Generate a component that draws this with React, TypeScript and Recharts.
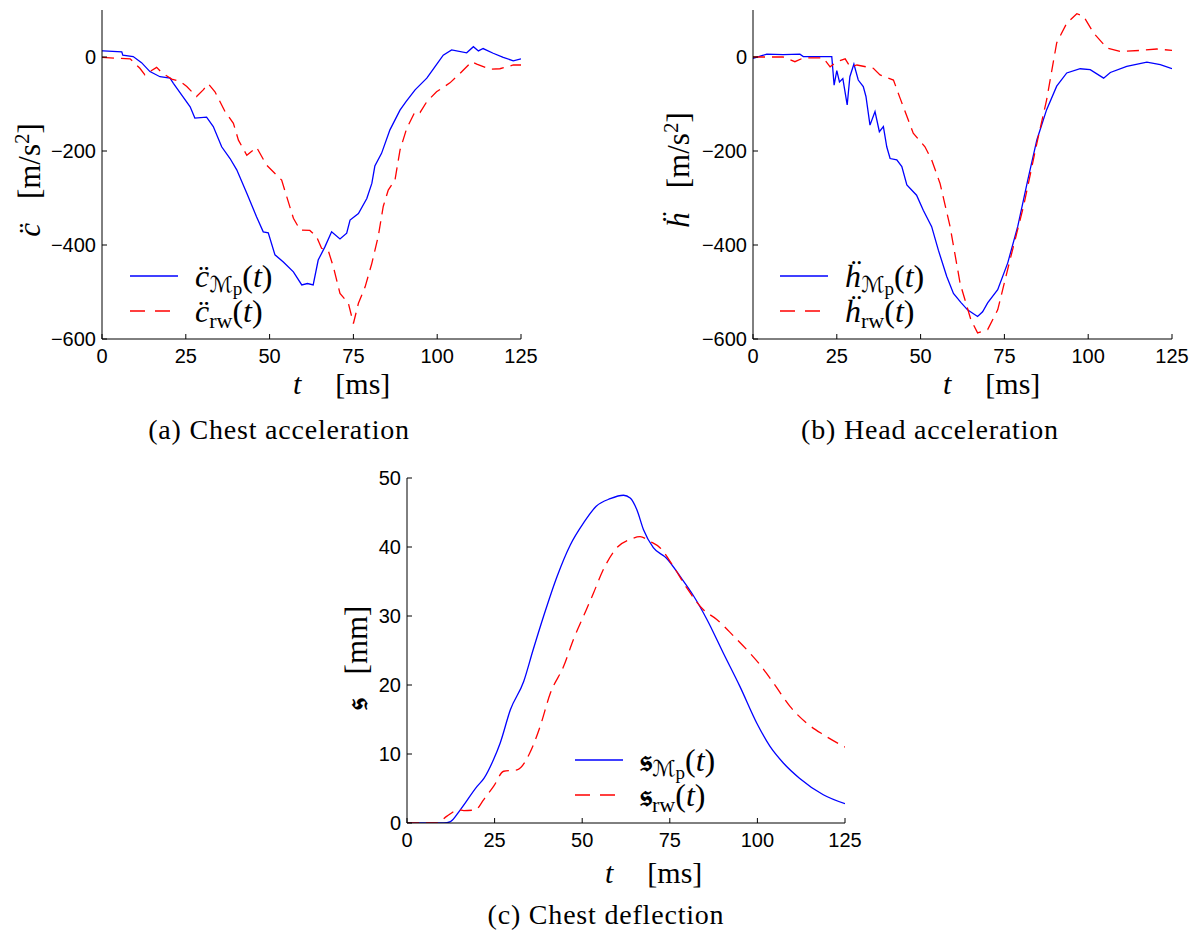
import React from "react";
import { LineChart, Line, XAxis, YAxis } from "recharts";

// (a) chest acceleration [m/s^2]
const chestMpT = [0, 0.4, 5.9, 6.2, 9.3, 11.8, 14.3, 17.3, 20.3, 21.3, 23.8, 26.3, 27.7, 31.2, 33.2, 35.7, 38.2, 40.2, 43.2, 46.1, 48.1, 49.6, 51.6, 54.1, 57.1, 59.6, 61.3, 63, 64.5, 66.5, 68.5, 71, 73, 74, 76.5, 79, 80.5, 81.4, 83.4, 85.9, 88.9, 90.7, 93.4, 96.9, 99.3, 101.8, 104.3, 108.8, 110.8, 112.3, 113.7, 116.7, 119.7, 122.7, 125];
const chestMpV = [13, 13, 11, 4, 1, -12, -31, -42, -45, -56, -81, -106, -130, -128, -148, -191, -216, -240, -290, -340, -372, -374, -421, -436, -457, -485, -482, -485, -432, -404, -372, -387, -375, -347, -333, -301, -269, -232, -205, -155, -113, -95, -70, -45, -21, 4, 15, 9, 22, 13, 18, 8, -1, -8, -4];
const chestRwT = [0, 8.4, 11.3, 12.8, 14.3, 16.3, 17.8, 20.8, 23.3, 25.3, 28.2, 30.2, 31.7, 33.7, 36.7, 39.2, 40.7, 43.2, 46.1, 49.1, 53.6, 55.1, 57.1, 59.1, 62, 64, 65.5, 67.5, 69, 71, 73.5, 75, 76.5, 78.5, 80.5, 82.4, 83.9, 85.4, 87.4, 88.9, 90.9, 93.4, 94.9, 96.9, 99.8, 103.8, 106.8, 110.3, 111.8, 115.7, 118.7, 122.7, 125];
const chestRwV = [-1, -4, -24, -38, -31, -22, -33, -47, -52, -63, -84, -70, -57, -74, -116, -141, -177, -209, -192, -230, -262, -297, -343, -368, -369, -382, -407, -412, -446, -503, -524, -567, -524, -489, -439, -382, -318, -283, -262, -198, -152, -116, -118, -95, -74, -55, -35, -10, -15, -26, -25, -17, -17];

// (b) head acceleration [m/s^2]
const headMpT = [0, 4.1, 9, 14, 15, 23.5, 24.2, 25, 25.8, 26.8, 28.1, 28.9, 30.1, 31.4, 32.9, 33.7, 34.9, 36.4, 37.7, 38.9, 39.9, 40.9, 42.9, 44.4, 45.9, 48.8, 50.8, 53.3, 55.3, 57.8, 59.8, 62, 64, 67, 68.5, 70, 73, 76, 79, 82, 84.7, 87.6, 90.6, 93.6, 97.6, 100.6, 104.6, 106.6, 111.5, 117.5, 121.5, 125];
const headMpV = [-3, 6, 5, 6, 1, 1, -60, -29, -53, -46, -102, -42, -15, -49, -63, -84, -145, -116, -159, -148, -191, -216, -219, -233, -272, -294, -326, -361, -411, -467, -503, -522, -538, -552, -542, -523, -495, -438, -360, -261, -176, -112, -62, -34, -25, -27, -45, -33, -20, -11, -16, -25];
const headRwT = [0, 9, 12.5, 15, 21, 23, 25, 27.5, 29, 31, 35.9, 37.9, 41.9, 43.9, 47.8, 51.3, 53.3, 55.8, 58.8, 61.8, 65, 67, 70, 73, 76.7, 80.7, 84.7, 87.6, 90.6, 93.6, 96.6, 98.6, 101.6, 105.6, 109.6, 115.5, 120.5, 125];
const headRwV = [0, 0, -10, -2, -2, -21, -10, -4, -21, -17, -24, -38, -49, -88, -162, -191, -219, -269, -361, -482, -559, -587, -580, -538, -431, -318, -183, -91, 30, 72, 92, 87, 51, 19, 12, 14, 17, 14];

// (c) chest deflection [mm]
const deflMpT = [0, 10.5, 12.4, 15.2, 20, 22, 24.7, 26.6, 29.5, 33.3, 36, 39, 42.8, 46.6, 50.4, 54, 58, 61.8, 63.7, 65.6, 67.5, 70.3, 74, 78, 81.8, 85.6, 90.3, 95, 99.8, 103.6, 107.4, 112, 118.8, 125];
const deflMpV = [0, 0, 0.2, 1.9, 5.3, 6.5, 9.2, 11.6, 16.4, 20.5, 25.1, 30, 35.7, 40.3, 43.5, 45.9, 47, 47.5, 47.1, 45.4, 42.5, 39.9, 38.4, 35.7, 32.9, 29.5, 24.6, 19.8, 14.5, 11.1, 8.7, 6.5, 4.1, 2.8];
const deflRwT = [0, 8.6, 11.4, 14.7, 16.2, 19.5, 21.9, 24.7, 27.6, 31.4, 35, 38, 40.9, 44.7, 47.5, 50.4, 53.2, 56, 59.9, 63.7, 66.5, 69.4, 72.2, 76, 79.8, 84.6, 88.4, 93.2, 97.9, 100.8, 104.6, 109.3, 114, 118.8, 125];
const deflRwV = [0, 0, 1, 1.9, 1.8, 1.9, 3.4, 5.3, 7.5, 7.7, 10.1, 14, 18.8, 22.7, 26.6, 30, 33.3, 36.7, 39.9, 41.1, 41.5, 40.8, 39.9, 37.2, 34.1, 30.9, 29.5, 27.1, 24.6, 22.9, 20.3, 16.9, 14.5, 12.8, 11];

const tTicks = [0, 25, 50, 75, 100, 125];
const accTicks = [-600, -400, -200, 0];
const deflTicks = [0, 10, 20, 30, 40, 50];

const zip = (t: number[], v: number[]) => t.map((x, i) => ({ t: x, v: v[i] }));

const SANS = "'Liberation Sans', Arial, sans-serif";
const SERIF = "'Liberation Serif', 'Times New Roman', serif";
const BLUE = "#0000ff";
const RED = "#ff0000";
const DASH = "12 7";
const Y_W = 60;
const X_H = 30;

const fmt = (v: number) => (v < 0 ? "\u2212" + Math.abs(v) : String(v));

// ticks point inward, like the matlab original
const XTick = (props: any) => {
  const { x, y, payload } = props;
  return (
    <g>
      <line x1={x} y1={y} x2={x} y2={y - 5} stroke="#000" />
      <text x={x} y={y + 24} textAnchor="middle" fontFamily={SANS} fontSize={20} fill="#000">
        {payload.value}
      </text>
    </g>
  );
};

const YTick = (props: any) => {
  const { x, y, payload } = props;
  return (
    <g>
      <line x1={x} y1={y} x2={x + 5} y2={y} stroke="#000" />
      <text x={x - 6} y={y + 7} textAnchor="end" fontFamily={SANS} fontSize={20} fill="#000">
        {fmt(payload.value)}
      </text>
    </g>
  );
};

interface PanelProps {
  left: number;
  top: number;
  plot: { top: number; right: number; bottom: number; left: number };
  domain: [number, number];
  yTicks: number[];
  mp: { t: number; v: number }[];
  rw: { t: number; v: number }[];
  curve: "linear" | "monotone";
}

function Panel({ left, top, plot, domain, yTicks, mp, rw, curve }: PanelProps) {
  const margin = { top: plot.top, right: plot.right, bottom: plot.bottom - X_H, left: plot.left - Y_W };
  return (
    <div style={{ position: "absolute", left, top }}>
      <LineChart width={560} height={420} margin={margin}>
        <XAxis
          type="number"
          dataKey="t"
          domain={[0, 125]}
          ticks={tTicks}
          allowDataOverflow
          height={X_H}
          tickSize={0}
          tickMargin={0}
          tickLine={false}
          axisLine={{ stroke: "#000" }}
          tick={<XTick />}
          interval={0}
        />
        <YAxis
          type="number"
          dataKey="v"
          domain={domain}
          ticks={yTicks}
          allowDataOverflow
          width={Y_W}
          tickSize={0}
          tickMargin={0}
          tickLine={false}
          axisLine={{ stroke: "#000" }}
          tick={<YTick />}
          interval={0}
        />
        <Line data={mp} dataKey="v" type={curve} stroke={BLUE} strokeWidth={1.3} dot={false} isAnimationActive={false} />
        <Line data={rw} dataKey="v" type={curve} stroke={RED} strokeWidth={1.3} strokeDasharray={DASH} dot={false} isAnimationActive={false} />
      </LineChart>
    </div>
  );
}

const abs = (l: number, t: number): React.CSSProperties => ({ position: "absolute", left: l, top: t, whiteSpace: "nowrap" });

function LegendBox({ left, top, sym }: { left: number; top: number; sym: React.ReactNode }) {
  const row: React.CSSProperties = { display: "flex", alignItems: "center", height: 35 };
  const txt: React.CSSProperties = { fontFamily: SERIF, fontSize: 32, marginLeft: 17, lineHeight: "32px" };
  const subS: React.CSSProperties = { fontSize: 22, lineHeight: 0, verticalAlign: "-0.25em" };
  return (
    <div style={abs(left, top)}>
      <div style={row}>
        <svg width={48} height={4}><line x1={0} y1={2} x2={48} y2={2} stroke={BLUE} strokeWidth={1.5} /></svg>
        <span style={txt}>
          {sym}
          <span style={subS}>
            <span style={{ fontFamily: "'DejaVu Sans', serif", fontSize: 22 }}>{"\u2133"}</span>
            <span style={{ fontSize: 19, verticalAlign: "-0.15em" }}>p</span>
          </span>
          (<i>t</i>)
        </span>
      </div>
      <div style={row}>
        <svg width={48} height={4}><line x1={0} y1={2} x2={48} y2={2} stroke={RED} strokeWidth={1.5} strokeDasharray="15 10" /></svg>
        <span style={txt}>
          {sym}
          <span style={subS}>rw</span>(<i>t</i>)
        </span>
      </div>
    </div>
  );
}

function YTitle({ x, y, sym, unit }: { x: number; y: number; sym: React.ReactNode; unit: React.ReactNode }) {
  return (
    <div
      style={{
        ...abs(x, y),
        transform: "translate(-50%, -50%) rotate(-90deg)",
        fontFamily: SERIF,
        fontSize: 31,
        lineHeight: "32px",
      }}
    >
      {sym}
      <span style={{ marginLeft: 24 }}>{unit}</span>
    </div>
  );
}

function XTitle({ x, y }: { x: number; y: number }) {
  return (
    <div style={{ ...abs(x, y), fontFamily: SERIF, fontSize: 30, lineHeight: "32px" }}>
      <i>t</i>
      <span style={{ marginLeft: 34 }}>[ms]</span>
    </div>
  );
}

const capStyle: React.CSSProperties = {
  position: "absolute",
  transform: "translateX(-50%)",
  whiteSpace: "nowrap",
  fontFamily: SERIF,
  fontSize: 28,
  letterSpacing: 0.8,
};

const accUnit = (
  <span>
    [m/s<sup style={{ fontSize: 21, lineHeight: 0 }}>2</sup>]
  </span>
);

export default function App() {
  const cdd = <i>c{"\u0308"}</i>;
  const hdd = <i>h{"\u0308"}</i>;
  const frak = <b>{"\ud835\udd30"}</b>;
  return (
    <div style={{ position: "absolute", left: 0, top: 0, width: 1198, height: 939, background: "#fff" }}>
      <Panel
        left={0}
        top={0}
        plot={{ top: 10, right: 39, bottom: 81, left: 102 }}
        domain={[-600, 100]}
        yTicks={accTicks}
        mp={zip(chestMpT, chestMpV)}
        rw={zip(chestRwT, chestRwV)}
        curve="linear"
      />
      <Panel
        left={640}
        top={0}
        plot={{ top: 10, right: 28, bottom: 81, left: 113 }}
        domain={[-600, 100]}
        yTicks={accTicks}
        mp={zip(headMpT, headMpV)}
        rw={zip(headRwT, headRwV)}
        curve="linear"
      />
      <Panel
        left={320}
        top={460}
        plot={{ top: 18, right: 35, bottom: 57, left: 87 }}
        domain={[0, 50]}
        yTicks={deflTicks}
        mp={zip(deflMpT, deflMpV)}
        rw={zip(deflRwT, deflRwV)}
        curve="monotone"
      />

      <LegendBox left={130} top={258} sym={cdd} />
      <LegendBox left={780} top={258} sym={hdd} />
      <LegendBox left={575} top={742} sym={frak} />

      <YTitle x={30} y={180} sym={cdd} unit={accUnit} />
      <YTitle x={679} y={170} sym={hdd} unit={accUnit} />
      <YTitle x={357} y={658} sym={frak} unit={<span>[mm]</span>} />

      <XTitle x={293} y={368} />
      <XTitle x={943} y={368} />
      <XTitle x={605} y={857} />

      <div style={{ ...capStyle, left: 279, top: 414 }}>(a) Chest acceleration</div>
      <div style={{ ...capStyle, left: 930, top: 414 }}>(b) Head acceleration</div>
      <div style={{ ...capStyle, left: 606, top: 899 }}>(c) Chest deflection</div>
    </div>
  );
}
